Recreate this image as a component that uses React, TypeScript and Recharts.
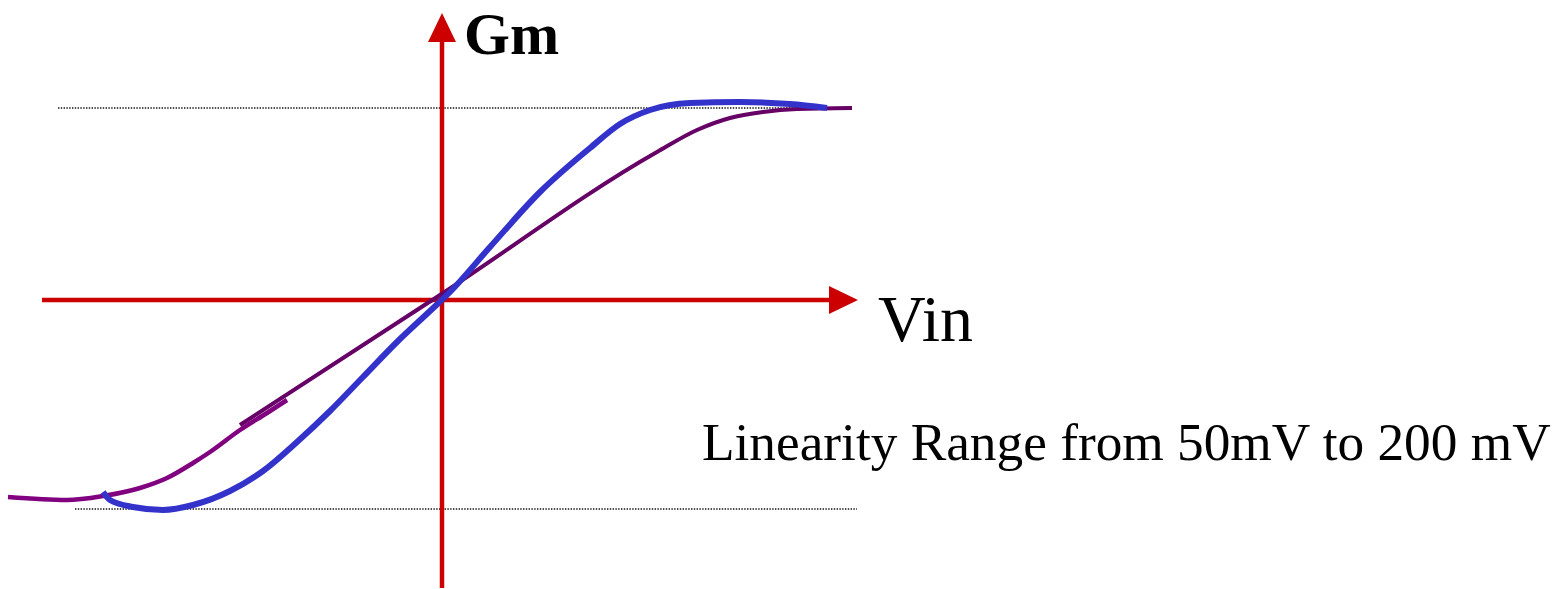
import { LineChart, Line, XAxis, YAxis, ReferenceLine } from "recharts";

// Vin / Gm in arbitrary units, origin where the red axes cross
const blueCurve = [
  { x: -339, y: -192 }, { x: -332, y: -200 }, { x: -309, y: -207 },
  { x: -279, y: -210 }, { x: -249, y: -205 }, { x: -212, y: -191 },
  { x: -179, y: -171 }, { x: -145, y: -142 }, { x: -112, y: -111 },
  { x: -79, y: -77 }, { x: -45, y: -42 }, { x: -12, y: -11 },
  { x: 8, y: 8 }, { x: 48, y: 53 }, { x: 98, y: 108 },
  { x: 148, y: 152 }, { x: 178, y: 176 }, { x: 208, y: 190 },
  { x: 248, y: 197 }, { x: 298, y: 198 }, { x: 348, y: 196 },
  { x: 385, y: 192 },
];

const purpleTail = [
  { x: -434, y: -197 }, { x: -375, y: -200 }, { x: -339, y: -196 },
  { x: -302, y: -188 }, { x: -275, y: -178 }, { x: -249, y: -163 },
  { x: -232, y: -152 }, { x: -202, y: -130 }, { x: -175, y: -113 },
  { x: -155, y: -100 },
];

const purpleMain = [
  { x: -202, y: -125 }, { x: -2, y: 5 }, { x: 215, y: 148 },
  { x: 255, y: 170 }, { x: 288, y: 182 }, { x: 321, y: 188 },
  { x: 355, y: 191 }, { x: 410, y: 192 },
];

const gmTop = 192;
const gmBottom = -209;

const RED = "#cc0000";

function Arrow(props: any) {
  const { x1, y1, x2, y2 } = props;
  const dx = x2 - x1;
  const dy = y2 - y1;
  const len = Math.hypot(dx, dy);
  const ux = dx / len;
  const uy = dy / len;
  const head = 29;
  const half = 14;
  const bx = x2 - ux * head;
  const by = y2 - uy * head;
  return (
    <g>
      <line x1={x1} y1={y1} x2={bx} y2={by} stroke={RED} strokeWidth={4.5} />
      <polygon
        points={`${x2},${y2} ${bx - uy * half},${by + ux * half} ${bx + uy * half},${by - ux * half}`}
        fill={RED}
      />
    </g>
  );
}

export default function App() {
  return (
    <div style={{ position: "absolute", left: 0, top: 0, background: "#fff" }}>
      <LineChart
        width={1558}
        height={589}
        margin={{ top: 0, right: 0, bottom: 0, left: 0 }}
      >
        <XAxis type="number" dataKey="x" domain={[-442, 1116]} hide />
        <YAxis type="number" dataKey="y" domain={[-289, 300]} hide />

        <ReferenceLine
          segment={[{ x: -384, y: gmTop }, { x: 388, y: gmTop }]}
          stroke="#111"
          strokeWidth={1.3}
          strokeDasharray="1.4 1.4"
          ifOverflow="visible"
        />
        <ReferenceLine
          segment={[{ x: -367, y: gmBottom }, { x: 415, y: gmBottom }]}
          stroke="#111"
          strokeWidth={1.3}
          strokeDasharray="1.4 1.4"
          ifOverflow="visible"
        />

        <ReferenceLine
          segment={[{ x: 0, y: -288 }, { x: 0, y: 287 }]}
          shape={Arrow}
          ifOverflow="visible"
        />
        <ReferenceLine
          segment={[{ x: -400, y: 0 }, { x: 416, y: 0 }]}
          shape={Arrow}
          ifOverflow="visible"
        />

        <Line
          data={purpleTail}
          dataKey="y"
          type="monotone"
          stroke="#800080"
          strokeWidth={4.5}
          dot={false}
          activeDot={false}
          isAnimationActive={false}
        />
        <Line
          data={purpleMain}
          dataKey="y"
          type="monotone"
          stroke="#660066"
          strokeWidth={4}
          dot={false}
          activeDot={false}
          isAnimationActive={false}
        />
        <Line
          data={blueCurve}
          dataKey="y"
          type="monotone"
          stroke="#3333cc"
          strokeWidth={6}
          dot={false}
          activeDot={false}
          isAnimationActive={false}
        />

        <text
          x={464}
          y={54}
          fontFamily="Liberation Serif"
          fontWeight="bold"
          fontSize={59}
          fill="#000"
        >
          Gm
        </text>
        <text x={878} y={341} fontFamily="Liberation Serif" fontSize={66} fill="#000">
          Vin
        </text>
        <text x={702} y={460} fontFamily="Liberation Serif" fontSize={53.3} fill="#000">
          Linearity Range from 50mV to 200 mV
        </text>
      </LineChart>
    </div>
  );
}
